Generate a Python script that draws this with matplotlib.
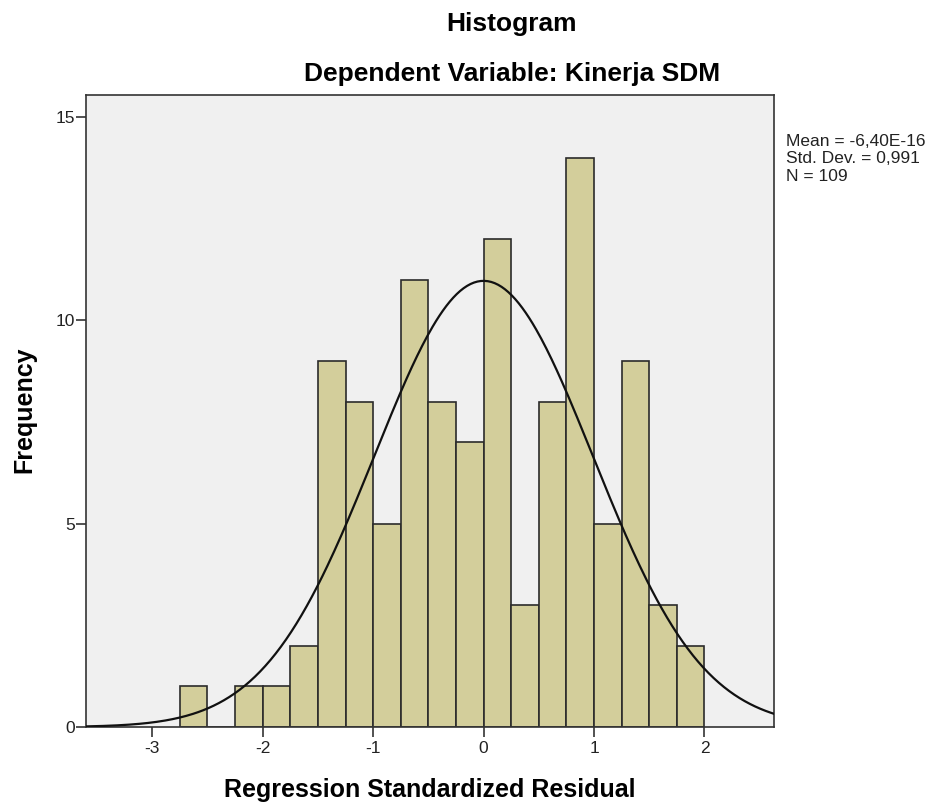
import numpy as np
import matplotlib
matplotlib.use('Agg')
import matplotlib.pyplot as plt

plt.rcParams['font.family'] = ['Liberation Sans', 'DejaVu Sans']

# bins (left edges) and frequencies
bin_left = [-2.75, -2.5, -2.25, -2.0, -1.75, -1.5, -1.25, -1.0, -0.75,
            -0.5, -0.25, 0.0, 0.25, 0.5, 0.75, 1.0, 1.25, 1.5, 1.75]
freq = [1, 0, 1, 1, 2, 9, 8, 5, 11, 8, 7, 12, 3, 8, 14, 5, 9, 3, 2]
bin_width = 0.25
mean = -6.40e-16
sd = 0.991
n = 109
stats_text = "Mean = -6,40E-16\nStd. Dev. = 0,991\nN = 109"

fig = plt.figure(figsize=(9.33, 8.05), dpi=100)
ax = fig.add_axes([0.0922, 0.0969, 0.7374, 0.7851])
ax.set_facecolor('#f0f0f0')

ax.bar(bin_left, freq, width=bin_width, align='edge',
       color='#d3ce9b', edgecolor='#2b2b2b', linewidth=1.2, zorder=2)

# normal curve scaled to the histogram
xs = np.linspace(-3.6, 2.63, 400)
ys = n * bin_width / (sd * np.sqrt(2 * np.pi)) * np.exp(-0.5 * ((xs - mean) / sd) ** 2)
ax.plot(xs, ys, color='#111111', linewidth=1.6, zorder=3)

ax.set_xlim(-3.6, 2.63)
ax.set_ylim(0, 15.54)
ax.set_xticks([-3, -2, -1, 0, 1, 2])
ax.set_xticklabels(['-3', '-2', '-1', '0', '1', '2'])
ax.set_yticks([0, 5, 10, 15])
ax.tick_params(axis='both', labelsize=12.5, length=7, width=1.2, colors='#333333',
               labelcolor='#222222')
ax.tick_params(axis='y', pad=1)
ax.tick_params(axis='x', pad=3)
for sp in ax.spines.values():
    sp.set_color('#333333')
    sp.set_linewidth(1.2)

fig.text(430 / 933, 1 - 797 / 805, 'Regression Standardized Residual',
         ha='center', va='baseline', fontsize=18, fontweight='bold')
fig.text(24 / 933, 1 - 410 / 805, 'Frequency', rotation=90,
         ha='center', va='center', fontsize=18, fontweight='bold')

fig.text(512 / 933, 1 - 31 / 805, 'Histogram', ha='center', va='baseline',
         fontsize=19, fontweight='bold')
fig.text(512 / 933, 1 - 81 / 805, 'Dependent Variable: Kinerja SDM',
         ha='center', va='baseline', fontsize=19, fontweight='bold')
fig.text(786 / 933, 1 - 134 / 805, stats_text, ha='left', va='top', fontsize=12.5,
         linespacing=1.2, color='#222222')

fig.savefig('out.png', dpi=100, facecolor='white')
